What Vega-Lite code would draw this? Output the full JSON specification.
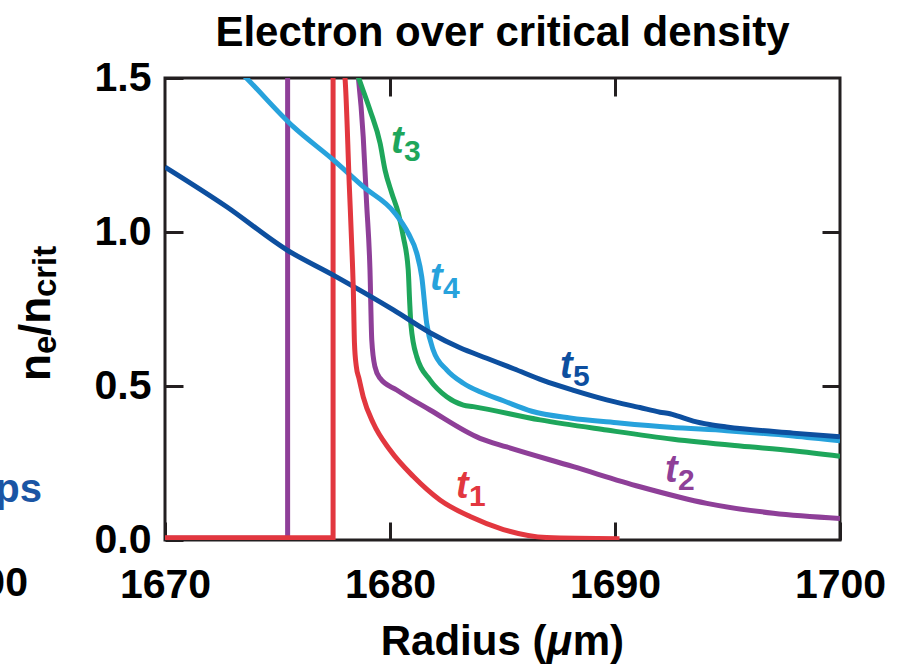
{
  "$schema": "https://vega.github.io/schema/vega-lite/v6.json",
  "width": 675,
  "height": 462,
  "autosize": {"type": "none"},
  "padding": {"left": 165, "top": 78, "right": 65, "bottom": 130},
  "background": "white",
  "config": {
    "font": "Liberation Sans",
    "view": {"stroke": "#231f20", "strokeWidth": 3}
  },
  "title": {
    "text": "Electron over critical density",
    "fontSize": 42,
    "font": "Liberation Sans",
    "fontWeight": "bold",
    "color": "black",
    "anchor": "middle",
    "baseline": "alphabetic",
    "offset": 20,
    "dy": 51
  },
  "datasets": {
    "steps": [
      {"series": "t2", "i": 0, "r": 1670, "v": 0.006},
      {"series": "t2", "i": 1, "r": 1675.45, "v": 0.006},
      {"series": "t2", "i": 2, "r": 1675.45, "v": 1.53},
      {"series": "t1", "i": 0, "r": 1670, "v": 0.007},
      {"series": "t1", "i": 1, "r": 1677.47, "v": 0.007},
      {"series": "t1", "i": 2, "r": 1677.47, "v": 1.53}
    ],
    "curves": [
      {"series": "t2", "i": 0, "r": 1678.55, "v": 1.53},
      {"series": "t2", "i": 1, "r": 1678.59, "v": 1.504},
      {"series": "t2", "i": 2, "r": 1678.81, "v": 1.309},
      {"series": "t2", "i": 3, "r": 1678.96, "v": 1.094},
      {"series": "t2", "i": 4, "r": 1679.11, "v": 0.877},
      {"series": "t2", "i": 5, "r": 1679.19, "v": 0.649},
      {"series": "t2", "i": 6, "r": 1679.33, "v": 0.563},
      {"series": "t2", "i": 7, "r": 1679.56, "v": 0.525},
      {"series": "t2", "i": 8, "r": 1680.3, "v": 0.487},
      {"series": "t2", "i": 9, "r": 1681.78, "v": 0.422},
      {"series": "t2", "i": 10, "r": 1684.0, "v": 0.33},
      {"series": "t2", "i": 11, "r": 1685.19, "v": 0.302},
      {"series": "t2", "i": 12, "r": 1688.15, "v": 0.238},
      {"series": "t2", "i": 13, "r": 1691.11, "v": 0.173},
      {"series": "t2", "i": 14, "r": 1694.08, "v": 0.119},
      {"series": "t2", "i": 15, "r": 1697.04, "v": 0.087},
      {"series": "t2", "i": 16, "r": 1700, "v": 0.07},

      {"series": "t3", "i": 0, "r": 1678.47, "v": 1.53},
      {"series": "t3", "i": 1, "r": 1678.59, "v": 1.504},
      {"series": "t3", "i": 2, "r": 1679.11, "v": 1.396},
      {"series": "t3", "i": 3, "r": 1679.56, "v": 1.288},
      {"series": "t3", "i": 4, "r": 1679.78, "v": 1.201},
      {"series": "t3", "i": 5, "r": 1680.08, "v": 1.126},
      {"series": "t3", "i": 6, "r": 1680.37, "v": 1.061},
      {"series": "t3", "i": 7, "r": 1680.59, "v": 0.985},
      {"series": "t3", "i": 8, "r": 1680.81, "v": 0.877},
      {"series": "t3", "i": 9, "r": 1680.87, "v": 0.78},
      {"series": "t3", "i": 10, "r": 1680.93, "v": 0.7},
      {"series": "t3", "i": 11, "r": 1681.19, "v": 0.595},
      {"series": "t3", "i": 12, "r": 1681.78, "v": 0.519},
      {"series": "t3", "i": 13, "r": 1682.52, "v": 0.465},
      {"series": "t3", "i": 14, "r": 1683.26, "v": 0.438},
      {"series": "t3", "i": 15, "r": 1683.7, "v": 0.433},
      {"series": "t3", "i": 16, "r": 1686.67, "v": 0.39},
      {"series": "t3", "i": 17, "r": 1689.63, "v": 0.357},
      {"series": "t3", "i": 18, "r": 1692.59, "v": 0.327},
      {"series": "t3", "i": 19, "r": 1695.56, "v": 0.305},
      {"series": "t3", "i": 20, "r": 1697.92, "v": 0.29},
      {"series": "t3", "i": 21, "r": 1700, "v": 0.272},

      {"series": "t4", "i": 0, "r": 1673.2, "v": 1.53},
      {"series": "t4", "i": 1, "r": 1673.56, "v": 1.504},
      {"series": "t4", "i": 2, "r": 1675.7, "v": 1.342},
      {"series": "t4", "i": 3, "r": 1677.48, "v": 1.234},
      {"series": "t4", "i": 4, "r": 1678.81, "v": 1.147},
      {"series": "t4", "i": 5, "r": 1680.22, "v": 1.061},
      {"series": "t4", "i": 6, "r": 1680.81, "v": 0.996},
      {"series": "t4", "i": 7, "r": 1681.19, "v": 0.931},
      {"series": "t4", "i": 8, "r": 1681.41, "v": 0.855},
      {"series": "t4", "i": 9, "r": 1681.63, "v": 0.704},
      {"series": "t4", "i": 10, "r": 1681.92, "v": 0.617},
      {"series": "t4", "i": 11, "r": 1682.52, "v": 0.552},
      {"series": "t4", "i": 12, "r": 1683.26, "v": 0.509},
      {"series": "t4", "i": 13, "r": 1684.0, "v": 0.481},
      {"series": "t4", "i": 14, "r": 1685.04, "v": 0.452},
      {"series": "t4", "i": 15, "r": 1686.3, "v": 0.418},
      {"series": "t4", "i": 16, "r": 1688.0, "v": 0.396},
      {"series": "t4", "i": 17, "r": 1690.2, "v": 0.38},
      {"series": "t4", "i": 18, "r": 1692.44, "v": 0.366},
      {"series": "t4", "i": 19, "r": 1694.96, "v": 0.355},
      {"series": "t4", "i": 20, "r": 1697.92, "v": 0.338},
      {"series": "t4", "i": 21, "r": 1700, "v": 0.322},

      {"series": "t5", "i": 0, "r": 1670, "v": 1.211},
      {"series": "t5", "i": 1, "r": 1672.74, "v": 1.082},
      {"series": "t5", "i": 2, "r": 1675.41, "v": 0.942},
      {"series": "t5", "i": 3, "r": 1677.48, "v": 0.86},
      {"series": "t5", "i": 4, "r": 1680.15, "v": 0.747},
      {"series": "t5", "i": 5, "r": 1681.78, "v": 0.673},
      {"series": "t5", "i": 6, "r": 1683.11, "v": 0.624},
      {"series": "t5", "i": 7, "r": 1684.3, "v": 0.59},
      {"series": "t5", "i": 8, "r": 1685.5, "v": 0.556},
      {"series": "t5", "i": 9, "r": 1686.8, "v": 0.518},
      {"series": "t5", "i": 10, "r": 1688.2, "v": 0.485},
      {"series": "t5", "i": 11, "r": 1689.63, "v": 0.455},
      {"series": "t5", "i": 12, "r": 1691.11, "v": 0.43},
      {"series": "t5", "i": 13, "r": 1692.0, "v": 0.415},
      {"series": "t5", "i": 14, "r": 1692.44, "v": 0.41},
      {"series": "t5", "i": 15, "r": 1692.8, "v": 0.402},
      {"series": "t5", "i": 16, "r": 1693.48, "v": 0.386},
      {"series": "t5", "i": 17, "r": 1694.2, "v": 0.375},
      {"series": "t5", "i": 18, "r": 1694.96, "v": 0.367},
      {"series": "t5", "i": 19, "r": 1697.92, "v": 0.347},
      {"series": "t5", "i": 20, "r": 1700, "v": 0.335},

      {"series": "t1", "i": 0, "r": 1677.95, "v": 1.53},
      {"series": "t1", "i": 1, "r": 1678.0, "v": 1.5},
      {"series": "t1", "i": 2, "r": 1678.19, "v": 1.153},
      {"series": "t1", "i": 3, "r": 1678.33, "v": 0.9},
      {"series": "t1", "i": 4, "r": 1678.37, "v": 0.812},
      {"series": "t1", "i": 5, "r": 1678.42, "v": 0.64},
      {"series": "t1", "i": 6, "r": 1678.5, "v": 0.565},
      {"series": "t1", "i": 7, "r": 1678.62, "v": 0.525},
      {"series": "t1", "i": 8, "r": 1678.81, "v": 0.465},
      {"series": "t1", "i": 9, "r": 1679.26, "v": 0.379},
      {"series": "t1", "i": 10, "r": 1680.0, "v": 0.292},
      {"series": "t1", "i": 11, "r": 1681.04, "v": 0.206},
      {"series": "t1", "i": 12, "r": 1682.22, "v": 0.13},
      {"series": "t1", "i": 13, "r": 1683.56, "v": 0.076},
      {"series": "t1", "i": 14, "r": 1685.04, "v": 0.034},
      {"series": "t1", "i": 15, "r": 1686.96, "v": 0.008},
      {"series": "t1", "i": 16, "r": 1690.2, "v": 0.004}
    ],
    "tlabels": [
      {"series": "t1", "r": 1682.93, "v": 0.136, "sub": "1"},
      {"series": "t2", "r": 1692.22, "v": 0.188, "sub": "2"},
      {"series": "t3", "r": 1680.04, "v": 1.256, "sub": "3"},
      {"series": "t4", "r": 1681.78, "v": 0.812, "sub": "4"},
      {"series": "t5", "r": 1687.56, "v": 0.525, "sub": "5"}
    ],
    "ytitle": [{"r": 1664.89, "v": 0.516}],
    "xtitle": [{"r": 1679.59, "v": -0.373}],
    "leftovers": [
      {"txt": "1700", "kind": "tick", "r": 1663.91, "v": -0.182},
      {"txt": "ps", "kind": "note", "r": 1664.53, "v": 0.123}
    ]
  },
  "layer": [
    {
      "data": {"name": "steps"},
      "mark": {"type": "line", "strokeWidth": 5, "clip": true, "strokeJoin": "miter"},
      "encoding": {
        "x": {
          "field": "r", "type": "quantitative",
          "scale": {"domain": [1670, 1700], "nice": false, "zero": false},
          "axis": {
            "orient": "bottom", "values": [1670, 1680, 1690, 1700], "format": "d",
            "labelFontSize": 41, "labelFont": "Liberation Sans", "labelFontWeight": "bold", "labelColor": "black",
            "labelFlush": false, "labelOverlap": false, "labelBound": false,
            "labelBaseline": "alphabetic", "labelPadding": 75,
            "tickSize": -18, "tickWidth": 3, "tickColor": "#231f20",
            "domain": false, "grid": false, "title": null
          }
        },
        "y": {
          "field": "v", "type": "quantitative",
          "scale": {"domain": [0, 1.5], "nice": false, "zero": false},
          "axis": {
            "orient": "left", "values": [0, 0.5, 1.0, 1.5], "format": ".1f",
            "labelFontSize": 41, "labelFont": "Liberation Sans", "labelFontWeight": "bold", "labelColor": "black",
            "labelFlush": false, "labelOverlap": false, "labelBound": false,
            "labelPadding": 32,
            "tickSize": -18, "tickWidth": 3, "tickColor": "#231f20",
            "domain": false, "grid": false, "title": null
          }
        },
        "color": {
          "field": "series", "type": "nominal",
          "scale": {"domain": ["t1", "t2", "t3", "t4", "t5"], "range": ["#e2373f", "#8e3f98", "#1ea65b", "#27a2dc", "#0d4f9f"]},
          "legend": null
        },
        "order": {"field": "i"}
      }
    },
    {
      "data": {"name": "curves"},
      "mark": {"type": "line", "strokeWidth": 5, "clip": true, "interpolate": "monotone", "strokeJoin": "round"},
      "encoding": {
        "x": {
          "field": "r", "type": "quantitative",
          "axis": {"orient": "top", "values": [1680, 1690], "labels": false, "tickSize": -18, "tickWidth": 3, "tickColor": "#231f20", "domain": false, "grid": false, "title": null}
        },
        "y": {
          "field": "v", "type": "quantitative",
          "axis": {"orient": "right", "values": [0.5, 1.0], "labels": false, "tickSize": -18, "tickWidth": 3, "tickColor": "#231f20", "domain": false, "grid": false, "title": null}
        },
        "color": {"field": "series", "type": "nominal", "legend": null},
        "order": {"field": "i"}
      }
    },
    {
      "data": {"name": "tlabels"},
      "mark": {"type": "text", "text": "t", "font": "Liberation Sans", "fontWeight": "bold", "fontStyle": "italic", "fontSize": 38, "align": "left", "baseline": "alphabetic"},
      "encoding": {
        "x": {"field": "r", "type": "quantitative", "axis": null},
        "y": {"field": "v", "type": "quantitative", "axis": null},
        "color": {"field": "series", "type": "nominal", "legend": null}
      }
    },
    {
      "data": {"name": "tlabels"},
      "mark": {"type": "text", "font": "Liberation Sans", "fontWeight": "bold", "fontSize": 30, "align": "left", "baseline": "alphabetic", "dx": 13, "dy": 8},
      "encoding": {
        "x": {"field": "r", "type": "quantitative", "axis": null},
        "y": {"field": "v", "type": "quantitative", "axis": null},
        "text": {"field": "sub"},
        "color": {"field": "series", "type": "nominal", "legend": null}
      }
    },
    {
      "data": {"name": "ytitle"},
      "mark": {"type": "text", "text": "n", "font": "Liberation Sans", "fontWeight": "bold", "fontSize": 44, "align": "left", "baseline": "alphabetic", "angle": 270, "color": "black"},
      "encoding": {
        "x": {"field": "r", "type": "quantitative", "axis": null},
        "y": {"field": "v", "type": "quantitative", "axis": null}
      }
    },
    {
      "data": {"name": "ytitle"},
      "mark": {"type": "text", "text": "e", "font": "Liberation Sans", "fontWeight": "bold", "fontSize": 33, "align": "left", "baseline": "alphabetic", "angle": 270, "dx": 27, "dy": 6, "color": "black"},
      "encoding": {
        "x": {"field": "r", "type": "quantitative", "axis": null},
        "y": {"field": "v", "type": "quantitative", "axis": null}
      }
    },
    {
      "data": {"name": "ytitle"},
      "mark": {"type": "text", "text": "/n", "font": "Liberation Sans", "fontWeight": "bold", "fontSize": 44, "align": "left", "baseline": "alphabetic", "angle": 270, "dx": 45, "color": "black"},
      "encoding": {
        "x": {"field": "r", "type": "quantitative", "axis": null},
        "y": {"field": "v", "type": "quantitative", "axis": null}
      }
    },
    {
      "data": {"name": "ytitle"},
      "mark": {"type": "text", "text": "crit", "font": "Liberation Sans", "fontWeight": "bold", "fontSize": 33, "align": "left", "baseline": "alphabetic", "angle": 270, "dx": 84, "dy": 6, "color": "black"},
      "encoding": {
        "x": {"field": "r", "type": "quantitative", "axis": null},
        "y": {"field": "v", "type": "quantitative", "axis": null}
      }
    },
    {
      "data": {"name": "xtitle"},
      "mark": {"type": "text", "text": "Radius (", "font": "Liberation Sans", "fontWeight": "bold", "fontSize": 42, "align": "left", "baseline": "alphabetic", "color": "black"},
      "encoding": {
        "x": {"field": "r", "type": "quantitative", "axis": null},
        "y": {"field": "v", "type": "quantitative", "axis": null}
      }
    },
    {
      "data": {"name": "xtitle"},
      "mark": {"type": "text", "text": "μ", "font": "Liberation Sans", "fontWeight": "bold", "fontStyle": "italic", "fontSize": 42, "align": "left", "baseline": "alphabetic", "dx": 166, "color": "black"},
      "encoding": {
        "x": {"field": "r", "type": "quantitative", "axis": null},
        "y": {"field": "v", "type": "quantitative", "axis": null}
      }
    },
    {
      "data": {"name": "xtitle"},
      "mark": {"type": "text", "text": "m)", "font": "Liberation Sans", "fontWeight": "bold", "fontSize": 42, "align": "left", "baseline": "alphabetic", "dx": 192, "color": "black"},
      "encoding": {
        "x": {"field": "r", "type": "quantitative", "axis": null},
        "y": {"field": "v", "type": "quantitative", "axis": null}
      }
    },
    {
      "data": {"name": "leftovers"},
      "transform": [{"filter": "datum.kind === 'tick'"}],
      "mark": {"type": "text", "font": "Liberation Sans", "fontWeight": "bold", "fontSize": 41, "align": "right", "baseline": "alphabetic", "color": "black"},
      "encoding": {
        "x": {"field": "r", "type": "quantitative", "axis": null},
        "y": {"field": "v", "type": "quantitative", "axis": null},
        "text": {"field": "txt"}
      }
    },
    {
      "data": {"name": "leftovers"},
      "transform": [{"filter": "datum.kind === 'note'"}],
      "mark": {"type": "text", "font": "Liberation Sans", "fontWeight": "bold", "fontSize": 40, "align": "right", "baseline": "alphabetic", "color": "#1a55a4"},
      "encoding": {
        "x": {"field": "r", "type": "quantitative", "axis": null},
        "y": {"field": "v", "type": "quantitative", "axis": null},
        "text": {"field": "txt"}
      }
    }
  ],
  "resolve": {"axis": {"x": "independent", "y": "independent"}}
}
